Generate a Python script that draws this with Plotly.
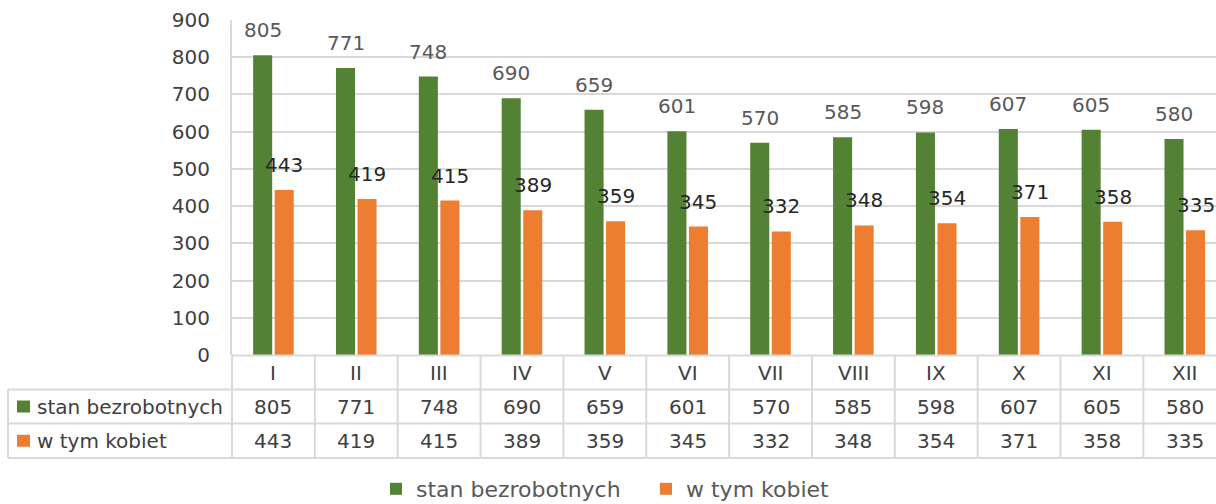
import plotly.graph_objects as go

months = ["I", "II", "III", "IV", "V", "VI", "VII", "VIII", "IX", "X", "XI", "XII"]
unemployed = [805, 771, 748, 690, 659, 601, 570, 585, 598, 607, 605, 580]
women = [443, 419, 415, 389, 359, 345, 332, 348, 354, 371, 358, 335]
series_names = ["stan bezrobotnych", "w tym kobiet"]
y_ticks = [0, 100, 200, 300, 400, 500, 600, 700, 800, 900]

GREEN = "#548235"
ORANGE = "#ED7D31"
GRID = "#D9D9D9"
FONT = "DejaVu Sans"

W, H = 1216, 504
PL, PT, PB = 232, 20, 355  # plot area pixel bounds
PW = W - PL
CAT_W = 82.85
x_min = -0.5
x_max = x_min + PW / CAT_W

def py(ypx):
    return (PB - ypx) / (PB - PT)

def px(xpx):
    return (xpx - PL) / PW

idx = list(range(len(months)))

fig = go.Figure()
fig.add_trace(go.Bar(x=idx, y=unemployed, name=series_names[0],
                     marker=dict(color=GREEN, line=dict(width=0))))
fig.add_trace(go.Bar(x=idx, y=women, name=series_names[1],
                     marker=dict(color=ORANGE, line=dict(width=0))))

annotations = []
off = 0.13
for i in idx:
    annotations.append(dict(x=i - off, y=unemployed[i], xref="x", yref="y", yshift=25,
                            text=str(unemployed[i]), showarrow=False,
                            font=dict(family=FONT, size=20, color="#595959")))
    annotations.append(dict(x=i + off, y=women[i], xref="x", yref="y", yshift=25,
                            text=str(women[i]), showarrow=False,
                            font=dict(family=FONT, size=20, color="#262626")))

# table rows (pixel y positions)
y_top, y_h, y_r1, y_r2 = 355.5, 389.5, 423.5, 458
row_centers = [(y_top + y_h) / 2, (y_h + y_r1) / 2, (y_r1 + y_r2) / 2]
table_font = dict(family=FONT, size=20, color="#404040")
for i in idx:
    annotations.append(dict(x=i, y=py(row_centers[0]), xref="x", yref="paper",
                            text=months[i], showarrow=False, font=table_font,
                            xanchor="center", yanchor="middle"))
    annotations.append(dict(x=i, y=py(row_centers[1]), xref="x", yref="paper",
                            text=str(unemployed[i]), showarrow=False, font=table_font,
                            xanchor="center", yanchor="middle"))
    annotations.append(dict(x=i, y=py(row_centers[2]), xref="x", yref="paper",
                            text=str(women[i]), showarrow=False, font=table_font,
                            xanchor="center", yanchor="middle"))
for r, name in enumerate(series_names):
    annotations.append(dict(x=px(35), y=py(row_centers[r + 1]), xref="paper", yref="paper",
                            text=name, showarrow=False, font=table_font,
                            xanchor="left", yanchor="middle"))

shapes = []
line = dict(color=GRID, width=2)
# horizontal table lines
shapes.append(dict(type="line", xref="paper", yref="paper", x0=0, x1=1.05,
                   y0=py(y_top), y1=py(y_top), line=line))
for yy in (y_h, y_r1, y_r2):
    shapes.append(dict(type="line", xref="paper", yref="paper", x0=px(8), x1=1.05,
                       y0=py(yy), y1=py(yy), line=line))
# vertical table lines
shapes.append(dict(type="line", xref="paper", yref="paper", x0=px(8), x1=px(8),
                   y0=py(y_h), y1=py(y_r2), line=line))
shapes.append(dict(type="line", xref="paper", yref="paper", x0=0, x1=0,
                   y0=py(y_top), y1=py(y_r2), line=line))
for k in range(1, len(months)):
    shapes.append(dict(type="line", xref="x", yref="paper", x0=k - 0.5, x1=k - 0.5,
                       y0=py(y_top), y1=py(y_r2), line=line))
# legend keys in table
for r, col in enumerate([GREEN, ORANGE]):
    c = row_centers[r + 1]
    shapes.append(dict(type="rect", xref="paper", yref="paper", x0=px(17), x1=px(30),
                       y0=py(c + 6), y1=py(c - 6), line=dict(width=0), fillcolor=col))

fig.update_layout(
    width=W, height=H,
    margin=dict(l=PL, r=0, t=PT, b=H - PB, pad=0),
    paper_bgcolor="white", plot_bgcolor="white",
    barmode="group", bargap=0.48, bargroupgap=0.116,
    font=dict(family=FONT, color="#404040"),
    xaxis=dict(range=[x_min, x_max], showticklabels=False, showgrid=False,
               zeroline=False, showline=False, ticks=""),
    yaxis=dict(range=[0, 900], tickvals=y_ticks, showgrid=True, gridcolor=GRID,
               gridwidth=2, zeroline=False, showline=True, linecolor=GRID, linewidth=2,
               ticks="", ticklabelstandoff=16,
               tickfont=dict(family=FONT, size=20, color="#404040")),
    showlegend=True,
    legend=dict(orientation="h", xref="container", yref="container",
                x=376 / W, xanchor="left", y=1 - 489 / H, yanchor="middle",
                entrywidth=225, entrywidthmode="pixels",
                font=dict(family=FONT, size=22, color="#595959"),
                traceorder="normal"),
    annotations=annotations,
    shapes=shapes,
)

fig.write_html("out.html", config={"displayModeBar": False},
               post_script="document.body.style.margin='0';document.body.style.overflow='hidden';")
